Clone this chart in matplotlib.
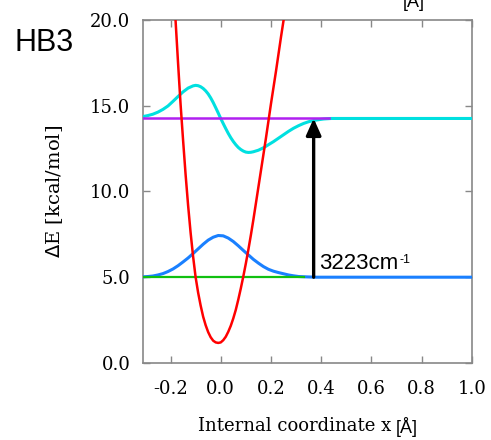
import numpy as np
import matplotlib.pyplot as plt

# potential curve
x_pot = [-0.19, -0.18, -0.17, -0.16, -0.15, -0.14, -0.13, -0.12, -0.11, -0.10,
         -0.09, -0.08, -0.07, -0.06, -0.05, -0.04, -0.03, -0.02, -0.01, 0.00,
         0.01, 0.02, 0.03, 0.04, 0.05, 0.06, 0.07, 0.08, 0.09, 0.10,
         0.11, 0.12, 0.13, 0.14, 0.15, 0.16, 0.17, 0.18, 0.19, 0.20,
         0.21, 0.22, 0.23, 0.24, 0.25, 0.26]
e_pot = [22.3, 20.0, 17.5, 15.1, 13.0, 11.0, 9.2, 7.6, 6.2, 5.0,
         4.1, 3.35, 2.7, 2.2, 1.8, 1.5, 1.3, 1.2, 1.17, 1.2,
         1.33, 1.53, 1.82, 2.17, 2.6, 3.1, 3.7, 4.35, 5.05, 5.8,
         6.6, 7.45, 8.35, 9.3, 10.25, 11.2, 12.15, 13.1, 14.1, 15.1,
         16.05, 17.0, 18.0, 19.0, 19.95, 20.9]

# vibrational levels
E0 = 5.0
E1 = 14.25
lev0_x = [-0.31, 0.33]
lev1_x = [-0.31, 0.43]

# ground state wavefunction (offset by E0)
x_wf0 = [-0.31, -0.29, -0.27, -0.25, -0.23, -0.21, -0.19, -0.17, -0.15, -0.13,
         -0.11, -0.09, -0.07, -0.05, -0.03, -0.01, 0.01, 0.03, 0.05, 0.07,
         0.09, 0.11, 0.13, 0.15, 0.17, 0.19, 0.21, 0.23, 0.25, 0.27,
         0.29, 0.31, 0.34, 0.38, 1.0]
e_wf0 = [5.02, 5.04, 5.07, 5.13, 5.21, 5.33, 5.48, 5.67, 5.89, 6.12,
         6.38, 6.65, 6.92, 7.16, 7.33, 7.43, 7.41, 7.28, 7.08, 6.83,
         6.56, 6.30, 6.04, 5.82, 5.62, 5.46, 5.35, 5.27, 5.20, 5.13,
         5.08, 5.04, 5.02, 5.0, 5.0]

# first excited state wavefunction (offset by E1)
x_wf1 = [-0.31, -0.29, -0.27, -0.25, -0.23, -0.21, -0.19, -0.17, -0.15, -0.13,
         -0.11, -0.10, -0.09, -0.08, -0.07, -0.06, -0.05, -0.04, -0.03, -0.02,
         -0.01, 0.00, 0.01, 0.02, 0.03, 0.04, 0.05, 0.06, 0.07, 0.08,
         0.09, 0.10, 0.11, 0.12, 0.13, 0.15, 0.17, 0.19, 0.21, 0.23,
         0.25, 0.27, 0.29, 0.31, 0.33, 0.35, 0.37, 0.39, 0.41, 0.44, 1.0]
e_wf1 = [14.36, 14.42, 14.50, 14.62, 14.78, 14.98, 15.25, 15.53, 15.80, 16.02,
         16.15, 16.18, 16.16, 16.10, 16.00, 15.86, 15.68, 15.45, 15.18, 14.88,
         14.57, 14.25, 13.95, 13.66, 13.38, 13.13, 12.91, 12.72, 12.56, 12.44,
         12.35, 12.29, 12.27, 12.28, 12.31, 12.40, 12.54, 12.72, 12.90, 13.10,
         13.30, 13.50, 13.68, 13.83, 13.96, 14.06, 14.13, 14.18, 14.22, 14.25, 14.25]

arrow_x = 0.37
label = '3223cm'
label_sup = '-1'

fig = plt.figure(figsize=(4.91, 4.40), dpi=100)
ax = fig.add_axes([0.291, 0.175, 0.670, 0.780])

ax.plot(x_wf0, e_wf0, color='#1a80ff', lw=2.2, zorder=3)
ax.plot(lev0_x, [E0, E0], color='#10c010', lw=1.6, zorder=4)
ax.plot(x_wf1, e_wf1, color='#00e0e0', lw=2.2, zorder=3)
ax.plot(lev1_x, [E1, E1], color='#b020f0', lw=1.8, zorder=4)
ax.plot(x_pot, e_pot, color='#ff0000', lw=1.8, zorder=5)

ax.annotate('', xy=(arrow_x, E1), xytext=(arrow_x, E0),
            arrowprops=dict(arrowstyle='-|>,head_width=0.45,head_length=1.0',
                            color='black', lw=2.4, shrinkA=0, shrinkB=0),
            zorder=6)
t = ax.text(arrow_x + 0.02, 5.5, label, fontsize=16, family='Liberation Sans',
            ha='left', va='baseline')
ax.annotate(label_sup, xy=(1.0, 1.0), xycoords=t, xytext=(1, -1),
            textcoords='offset points', fontsize=9, family='Liberation Sans',
            ha='left', va='top')

ax.set_xlim(-0.31, 1.0)
ax.set_ylim(0, 20)
ax.set_xticks([-0.2, 0.0, 0.2, 0.4, 0.6, 0.8, 1.0])
ax.set_xticklabels(['-0.2', '0.0', '0.2', '0.4', '0.6', '0.8', '1.0'])
ax.set_yticks([0, 5, 10, 15, 20])
ax.set_yticklabels(['0.0', '5.0', '10.0', '15.0', '20.0'])
ax.tick_params(direction='in', top=True, right=True, length=5, width=1,
               color='#888888', labelsize=13)
ax.tick_params(axis='x', pad=12)
ax.tick_params(axis='y', pad=9)
for lab in ax.get_xticklabels() + ax.get_yticklabels():
    lab.set_family('DejaVu Serif')
for s in ax.spines.values():
    s.set_color('#888888')
    s.set_linewidth(1.2)

ax.set_ylabel(r'$\Delta$E [kcal/mol]', family='DejaVu Serif', fontsize=14, labelpad=18)
fig.text(0.403, 0.032, 'Internal coordinate x', family='DejaVu Serif', fontsize=13,
         ha='left', va='center')
fig.text(0.805, 0.030, '[Å]', family='Liberation Sans', fontsize=13,
         ha='left', va='center')

fig.text(0.03, 0.902, 'HB3', family='Liberation Sans', fontsize=22,
         ha='left', va='center')
# bottom of the label from the panel above
fig.text(0.82, 0.975, '[Å]', family='Liberation Sans', fontsize=13,
         ha='left', va='bottom')

fig.savefig('out.png', dpi=100)
